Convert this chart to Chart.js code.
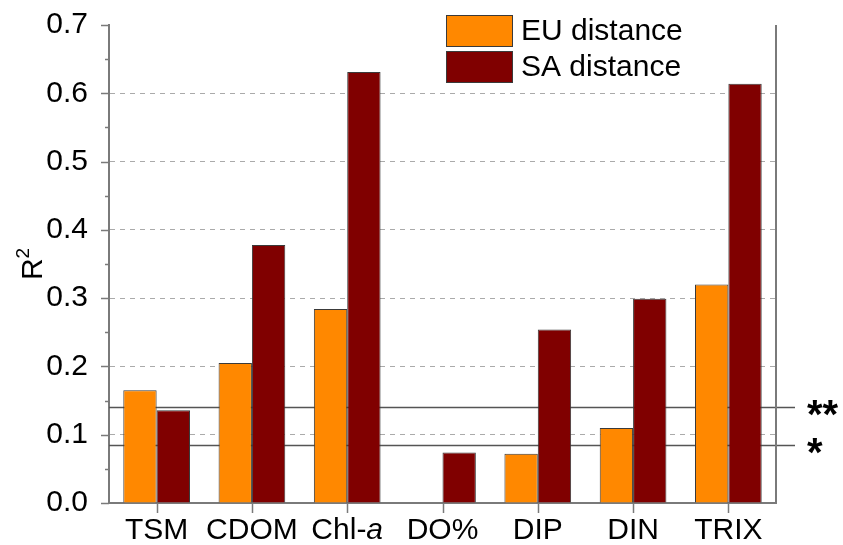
<!DOCTYPE html>
<html>
<head>
<meta charset="utf-8">
<script src="https://cdn.jsdelivr.net/npm/chart.js@4/dist/chart.umd.min.js"></script>
<style>
  html, body { margin: 0; padding: 0; background: #fff; }
  #wrap { width: 843px; height: 545px; }
</style>
</head>
<body>
<div id="wrap"><canvas id="c" width="843" height="545"></canvas></div>
<script>
// Water-quality parameters on the x axis
const categories = ['TSM', 'CDOM', 'Chl-a', 'DO%', 'DIP', 'DIN', 'TRIX'];
// R² of each parameter against the two distance measures
const euDistance = [0.165, 0.205, 0.284, null, 0.072, 0.110, 0.320];
const saDistance = [0.136, 0.378, 0.631, 0.074, 0.254, 0.299, 0.614];
// Significance thresholds for R² and their markers
const thresholdValues = [0.14, 0.085];
const thresholdMarks = ['**', '*'];
// Y axis range and step
const yMin = 0, yMax = 0.7, yStep = 0.1;

const FONT = "'Liberation Sans', Arial, Helvetica, sans-serif";
const ORANGE = '#FF8800';
const MAROON = '#800000';
const EDGE = '#3a3a3a';
const AXIS = '#7a7a7a';

const isEdgeTick = v => Math.abs(v - yMin) < 1e-6 || Math.abs(v - yMax) < 1e-6;

// Reference lines sit behind the bars
const thresholdPlugin = {
  id: 'thresholds',
  beforeDatasetsDraw(chart) {
    const { ctx, scales: { x, y } } = chart;
    ctx.save();
    ctx.strokeStyle = '#555';
    ctx.lineWidth = 1.5;
    thresholdValues.forEach(v => {
      const py = Math.round(y.getPixelForValue(v)) + 0.5;
      ctx.beginPath();
      ctx.moveTo(x.left, py);
      ctx.lineTo(x.right + 19, py);
      ctx.stroke();
    });
    ctx.restore();
  }
};

// Axis ticks, right frame line, category labels, axis title, legend, markers
const decorPlugin = {
  id: 'decor',
  afterDraw(chart) {
    const { ctx, scales: { x, y }, chartArea: ca } = chart;
    ctx.save();

    // right frame line
    ctx.strokeStyle = AXIS;
    ctx.lineWidth = 2;
    ctx.beginPath();
    ctx.moveTo(ca.right, ca.top);
    ctx.lineTo(ca.right, ca.bottom);
    ctx.stroke();

    // y ticks: major and minor, outward
    ctx.lineWidth = 1.5;
    const nSteps = Math.round((yMax - yMin) / yStep);
    for (let i = 0; i <= nSteps * 2; i++) {
      const v = yMin + i * yStep / 2;
      const py = Math.round(y.getPixelForValue(v)) + 0.5;
      const len = (i % 2 === 0) ? 8 : 4;
      ctx.beginPath();
      ctx.moveTo(ca.left - len, py);
      ctx.lineTo(ca.left, py);
      ctx.stroke();
    }

    // x ticks at category centres
    categories.forEach((c, i) => {
      const px = Math.round(x.getPixelForValue(i)) + 0.5;
      ctx.beginPath();
      ctx.moveTo(px, ca.bottom);
      ctx.lineTo(px, ca.bottom + 10);
      ctx.stroke();
    });

    // category labels (the "a" of Chl-a is italic)
    ctx.fillStyle = '#000';
    ctx.textBaseline = 'middle';
    ctx.textAlign = 'left';
    const labelY = ca.bottom + 28;
    categories.forEach((c, i) => {
      const cx = x.getPixelForValue(i);
      if (c === 'Chl-a') {
        ctx.font = `30px ${FONT}`;
        const w1 = ctx.measureText('Chl-').width;
        ctx.font = `italic 30px ${FONT}`;
        const w2 = ctx.measureText('a').width;
        let sx = cx - (w1 + w2) / 2;
        ctx.font = `30px ${FONT}`;
        ctx.fillText('Chl-', sx, labelY);
        ctx.font = `italic 30px ${FONT}`;
        ctx.fillText('a', sx + w1, labelY);
      } else {
        ctx.font = `30px ${FONT}`;
        const w = ctx.measureText(c).width;
        ctx.fillText(c, cx - w / 2, labelY);
      }
    });

    // y axis title R²
    ctx.save();
    ctx.translate(31, (ca.top + ca.bottom) / 2);
    ctx.rotate(-Math.PI / 2);
    ctx.font = `30px ${FONT}`;
    const wR = ctx.measureText('R').width;
    ctx.font = `19px ${FONT}`;
    const w2 = ctx.measureText('2').width;
    const start = -(wR + w2) / 2;
    ctx.textBaseline = 'alphabetic';
    ctx.font = `30px ${FONT}`;
    ctx.fillText('R', start, 11);
    ctx.font = `19px ${FONT}`;
    ctx.fillText('2', start + wR, -2);
    ctx.restore();

    // legend
    const legendItems = chart.data.datasets.map(d => ({ label: d.label, color: d.backgroundColor }));
    const boxX = 446, boxW = 66, boxH = 31, firstY = 15, rowH = 36;
    legendItems.forEach((it, i) => {
      const by = firstY + i * rowH;
      ctx.fillStyle = it.color;
      ctx.fillRect(boxX, by, boxW, boxH);
      ctx.strokeStyle = EDGE;
      ctx.lineWidth = 1;
      ctx.strokeRect(boxX + 0.5, by + 0.5, boxW, boxH);
      ctx.fillStyle = '#000';
      ctx.font = `30px ${FONT}`;
      ctx.textBaseline = 'middle';
      ctx.textAlign = 'left';
      ctx.fillText(it.label, boxX + boxW + 9, by + boxH / 2 + 1);
    });

    // significance markers
    ctx.fillStyle = '#000';
    ctx.font = `bold 40px ${FONT}`;
    ctx.textBaseline = 'middle';
    ctx.textAlign = 'left';
    thresholdValues.forEach((v, i) => {
      const py = y.getPixelForValue(v);
      ctx.fillText(thresholdMarks[i], ca.right + 31, py + 10);
    });

    ctx.restore();
  }
};

new Chart(document.getElementById('c'), {
  type: 'bar',
  data: {
    labels: categories,
    datasets: [
      {
        label: 'EU distance',
        data: euDistance,
        backgroundColor: ORANGE,
        borderColor: EDGE,
        borderWidth: 1,
        categoryPercentage: 0.7,
        barPercentage: 1.0
      },
      {
        label: 'SA distance',
        data: saDistance,
        backgroundColor: MAROON,
        borderColor: EDGE,
        borderWidth: 1,
        categoryPercentage: 0.7,
        barPercentage: 1.0
      }
    ]
  },
  options: {
    responsive: false,
    animation: false,
    devicePixelRatio: 1,
    layout: { padding: { left: 0, right: 67, top: 25, bottom: 0 } },
    plugins: {
      legend: { display: false },
      tooltip: { enabled: false }
    },
    scales: {
      x: {
        type: 'category',
        offset: true,
        grid: { display: false, drawTicks: false },
        border: { display: true, color: AXIS, width: 2 },
        ticks: { display: false },
        afterFit(scale) {
          scale.height = 42;
          scale.paddingLeft = 0;
          scale.paddingRight = 0;
        }
      },
      y: {
        min: yMin,
        max: yMax,
        afterFit(scale) {
          scale.width = 109;
          scale.paddingTop = 0;
          scale.paddingBottom = 0;
        },
        ticks: {
          stepSize: yStep,
          color: '#000',
          padding: 21,
          font: { family: FONT, size: 30 },
          callback: v => Number(v).toFixed(1)
        },
        grid: {
          drawTicks: false,
          lineWidth: 1,
          color: ctx => (ctx.tick && isEdgeTick(ctx.tick.value)) ? 'rgba(0,0,0,0)' : '#aaaaaa'
        },
        border: { display: true, color: AXIS, width: 2, dash: [5, 5] }
      }
    }
  },
  plugins: [thresholdPlugin, decorPlugin]
});
</script>
</body>
</html>
